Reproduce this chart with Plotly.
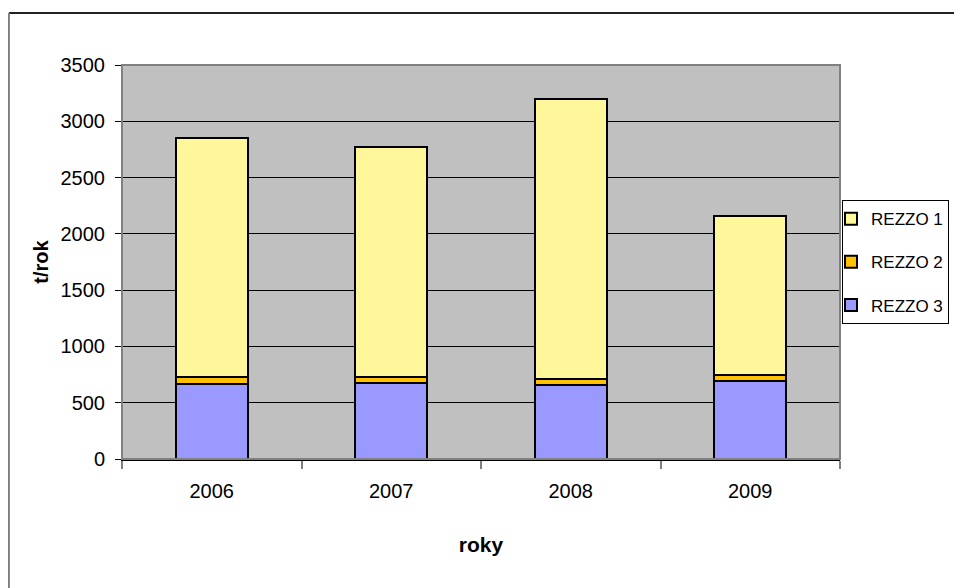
import plotly.graph_objects as go

years = ["2006", "2007", "2008", "2009"]
rezzo3 = [670, 675, 655, 695]
rezzo2 = [55, 55, 55, 50]
rezzo1 = [2130, 2040, 2490, 1415]

FONT = "Liberation Sans, Arial, sans-serif"

fig = go.Figure()
fig.add_trace(go.Bar(x=years, y=rezzo3, name="REZZO 3", legendrank=3,
                     marker=dict(color="#9999FF", line=dict(color="black", width=2)), legendgroup="g3"))
fig.add_trace(go.Bar(x=years, y=rezzo2, name="REZZO 2", legendrank=2,
                     marker=dict(color="#FFC000", line=dict(color="black", width=2)), legendgroup="g2"))
fig.add_trace(go.Bar(x=years, y=rezzo1, name="REZZO 1", legendrank=1,
                     marker=dict(color="#FFF799", line=dict(color="black", width=2)), legendgroup="g1"))

# page has an 8px body margin; figure is sized to fit the visible body area
fig.update_layout(
    width=946, height=580,
    barmode="stack", bargap=0.6,
    margin=dict(l=114, r=114, t=57, b=129, autoexpand=False),
    paper_bgcolor="white", plot_bgcolor="#C0C0C0",
    font=dict(family=FONT, size=20, color="black"),
    legend=dict(x=1.0028, y=0.657, xanchor="left", yanchor="top",
                bordercolor="black", borderwidth=1, bgcolor="white",
                traceorder="grouped", tracegroupgap=18, indentation=-12,
                font=dict(family=FONT, size=17)),
    xaxis=dict(type="category", showgrid=False, tickson="boundaries",
               ticks="outside", ticklen=8, tickcolor="#808080", tickwidth=2,
               ticklabelstandoff=13,
               showline=True, linecolor="black", linewidth=2,
               title=dict(text="<b>roky</b>", font=dict(family=FONT, size=21), standoff=36)),
    yaxis=dict(range=[0, 3500], dtick=500, showgrid=True, gridcolor="black", gridwidth=1,
               ticks="outside", ticklen=6, tickcolor="black",
               ticklabelstandoff=6,
               showline=True, linecolor="black", linewidth=1, zeroline=False,
               title=dict(text="<b>t/rok</b>", font=dict(family=FONT, size=20), standoff=6)),
    shapes=[
        dict(type="rect", xref="paper", yref="paper", x0=0, x1=1, y0=0, y1=1,
             line=dict(color="#808080", width=2), layer="above"),
        dict(type="line", xref="paper", yref="paper", x0=-0.1575, x1=1.2, y0=1.132, y1=1.132,
             line=dict(color="#222222", width=2)),
        dict(type="line", xref="paper", yref="paper", x0=-0.1575, x1=-0.1575, y0=1.132, y1=-0.4,
             line=dict(color="#808080", width=2)),
    ],
)

fig.write_html("out.html")
